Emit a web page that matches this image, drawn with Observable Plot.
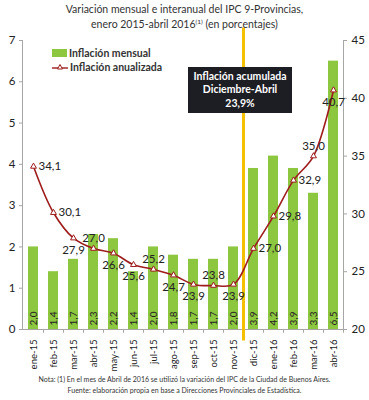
<!DOCTYPE html>
<html>
<head>
<meta charset="utf-8">
<script src="https://cdn.jsdelivr.net/npm/d3@7"></script>
<script src="https://cdn.jsdelivr.net/npm/@observablehq/plot@0.6"></script>
<style>
  html, body { margin: 0; padding: 0; background: #fff; }
  #wrap { position: relative; width: 369px; height: 400px; font-family: Lato, "Open Sans", sans-serif; color: #222; overflow: hidden; }
  #title { position: absolute; left: 0; top: 2px; width: 369px; text-align: center; font-size: 10.5px; line-height: 15px; color: #333; }
  #title sup { font-size: 6.5px; vertical-align: 4px; line-height: 0; }
  #chart { position: absolute; left: 0; top: 0; }
  #legend { position: absolute; left: 52px; top: 46px; font-size: 10.5px; font-weight: 700; color: #333; line-height: 14px; }
  #legend .row { display: flex; align-items: center; height: 14px; }
  #legend svg { margin-right: 2px; }
  #box { position: absolute; left: 188px; top: 67px; width: 104px; height: 46px; background: #1d1d24; color: #fff; font-weight: 700; font-size: 10.5px; line-height: 13.5px; text-align: center; display: flex; flex-direction: column; justify-content: center; }
  #notes { position: absolute; left: 0; top: 374px; width: 369px; text-align: center; font-size: 7px; line-height: 11px; color: #333; }
</style>
</head>
<body>
<div id="wrap">
  <div id="chart"></div>
  <div id="title">Variación mensual e interanual del IPC 9-Provincias,<br>enero 2015-abril 2016<sup>(1)</sup> (en porcentajes)</div>
  <div id="legend"></div>
  <div id="box"></div>
  <div id="notes"></div>
</div>
<script>
const months = ["ene-15","feb-15","mar-15","abr-15","may-15","jun-15","jul-15","ago-15","sep-15","oct-15","nov-15","dic-15","ene-16","feb-16","mar-16","abr-16"];
const mensual = [2.0,1.4,1.7,2.3,2.2,1.4,2.0,1.8,1.7,1.7,2.0,3.9,4.2,3.9,3.3,6.5];
const anualizada = [34.1,30.1,27.9,27.0,26.6,25.6,25.2,24.7,23.9,23.8,23.9,27.0,29.8,32.9,35.0,40.7];
const leftTicks = [0,1,2,3,4,5,6,7];
const rightTicks = [20,25,30,35,40,45];
const seriesNames = ["Inflación mensual", "Inflación anualizada"];
const boxLines = ["Inflación acumulada", "Diciembre-Abril", "23,9%"];
const notes = ["Nota: (1) En el mes de Abril de 2016 se utilizó la variación del IPC de la Ciudad de Buenos Aires.",
               "Fuente: elaboración propia en base a Direcciones Provinciales de Estadística."];
const labelsAbove = ["abr-15","jul-15","oct-15","mar-16"];
const labelsRight = ["ene-15","feb-15","dic-15","ene-16","feb-16"];
const breakMonth = "dic-15";

// right axis (20..45) mapped onto left axis (0..7)
const toLeft = v => (v - 20) * 7 / 25;
const fmt = v => v.toFixed(1).replace(".", ",");

const data = months.map((m, i) => ({month: m, mensual: mensual[i], anual: anualizada[i], anualL: toLeft(anualizada[i])}));

const GREEN = "#8dc63f", RED = "#9e1c1c", AXIS = "#a6a6a6", YELLOW = "#f5c000";

const chart = Plot.plot({
  width: 369,
  height: 380,
  marginTop: 40,
  marginBottom: 51,
  marginLeft: 22,
  marginRight: 26,
  style: {fontFamily: "Lato, 'Open Sans', sans-serif", color: "#222", background: "transparent"},
  x: {domain: months, paddingInner: 0.5, paddingOuter: 0.25, axis: null, label: null},
  y: {domain: [0, 7], axis: null, label: null},
  marks: [
    Plot.barY(data, {x: "month", y: "mensual", fill: GREEN}),
    Plot.text(data, {x: "month", y: 0, text: d => fmt(d.mensual), rotate: -90, dy: -11, fontSize: 10, fill: "#222"}),
    Plot.ruleY([0], {stroke: AXIS}),
    Plot.ruleX(months, {x: d => d, y1: 0, y2: -0.09, dx: 10, stroke: AXIS}),
    Plot.frame({anchor: "left", stroke: AXIS}),
    Plot.frame({anchor: "right", stroke: AXIS}),
    Plot.axisY({anchor: "left", ticks: leftTicks, tickFormat: d => d, tickSize: 3, tickPadding: 4, fontSize: 11.5, stroke: AXIS, fill: "#222", label: null}),
    Plot.axisY(rightTicks.map(toLeft), {anchor: "right", tickFormat: d => Math.round(d * 25 / 7 + 20), tickSize: 3, tickPadding: 5, fontSize: 11.5, stroke: AXIS, fill: "#222", label: null}),
    Plot.axisX({anchor: "bottom", tickRotate: -90, tickSize: 0, tickPadding: 10, fontSize: 9.5, fill: "#222", label: null}),
    Plot.ruleX([breakMonth], {x: d => d, y1: -0.28, y2: 7.3, dx: -10, stroke: YELLOW, strokeWidth: 3}),
    Plot.line(data, {x: "month", y: "anualL", stroke: RED, strokeWidth: 1.6, curve: "catmull-rom"}),
    Plot.dot(data, {x: "month", y: "anualL", symbol: "triangle", r: 2.2, fill: "#fff", stroke: RED, strokeWidth: 1}),
    Plot.text(data.filter(d => labelsAbove.includes(d.month)), {x: "month", y: "anualL", text: d => fmt(d.anual), dy: -10, fontSize: 11.5, fill: "#222"}),
    Plot.text(data.filter(d => labelsRight.includes(d.month)), {x: "month", y: "anualL", text: d => fmt(d.anual), dx: 5, textAnchor: "start", fontSize: 11.5, fill: "#222"}),
    Plot.text(data.filter(d => !labelsAbove.includes(d.month) && !labelsRight.includes(d.month)), {x: "month", y: "anualL", text: d => fmt(d.anual), dy: 12, fontSize: 11.5, fill: "#222"})
  ]
});
document.getElementById("chart").appendChild(chart);

document.getElementById("legend").innerHTML =
  `<div class="row"><svg width="15" height="8"><rect x="0" y="0" width="15" height="8" fill="${GREEN}"/></svg>${seriesNames[0]}</div>` +
  `<div class="row"><svg width="16" height="10"><line x1="0" y1="6" x2="16" y2="6" stroke="${RED}" stroke-width="1.4"/><path d="M8,2.5 L10.5,7 L5.5,7 Z" fill="#fff" stroke="${RED}" stroke-width="1"/></svg>${seriesNames[1]}</div>`;
document.getElementById("box").innerHTML = boxLines.map(s => `<div>${s}</div>`).join("");
document.getElementById("notes").innerHTML = notes.map(s => `<div>${s}</div>`).join("");
</script>
</body>
</html>
